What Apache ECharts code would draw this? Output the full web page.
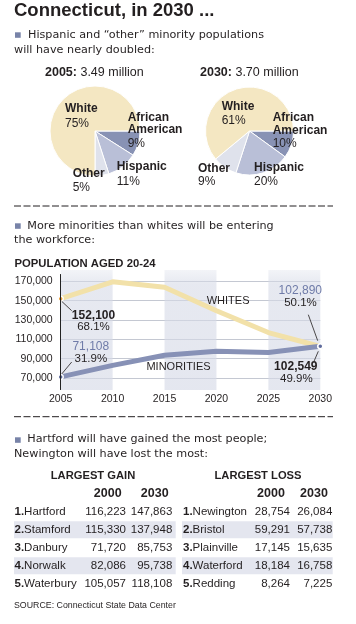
<!DOCTYPE html>
<html><head><meta charset="utf-8">
<script src="https://cdn.jsdelivr.net/npm/echarts@6/dist/echarts.min.js"></script>
<style>html,body{margin:0;padding:0;background:#fff}#c{width:356px;height:624px}</style>
</head><body><div id="c"></div>
<script>
// ---------- DATA ----------
const pieCategories = ['African American', 'Hispanic', 'Other', 'White'];
const pie2005 = [9, 11, 5, 75];
const pie2030 = [10, 20, 9, 61];
const pieTotals = ['3.49 million', '3.70 million'];
const years = [2005, 2010, 2015, 2020, 2025, 2030];
const whites = [152100, 169500, 163800, 139500, 117000, 102549];
const minorities = [71108, 83000, 93500, 97700, 96300, 102890];
const yTicks = [70000, 90000, 110000, 130000, 150000, 170000];
const bands = [[2005, 2010], [2015, 2020], [2025, 2030]];
const gainCities = ['Hartford', 'Stamford', 'Danbury', 'Norwalk', 'Waterbury'];
const gain2000 = [116223, 115330, 71720, 82086, 105057];
const gain2030 = [147863, 137948, 85753, 95738, 118108];
const lossCities = ['Newington', 'Bristol', 'Plainville', 'Waterford', 'Redding'];
const loss2000 = [28754, 59291, 17145, 18184, 8264];
const loss2030 = [26084, 57738, 15635, 16758, 7225];

// ---------- STYLE ----------
const INK = '#231f20', BLUE_TXT = '#6f7ba8';
const LS = 'Liberation Sans', DV = 'DejaVu Sans';
const pieColors = ['#8892b4', '#b9bfd7', '#dfe2ec', '#f4e7c2'];
const fmt = v => v.toLocaleString('en-US');

function T(text, x, y, o) {
  o = o || {};
  const st = {text: text, fill: o.fill || INK, fontFamily: o.ff || LS, fontSize: o.fs || 12,
    fontWeight: o.fw || 'normal', align: o.align || 'left', verticalAlign: 'middle'};
  if (o.rich) st.rich = o.rich;
  return {type: 'text', x: x, y: y, z: 100, silent: true, style: st};
}
function L(x1, y1, x2, y2, o) {
  o = o || {};
  return {type: 'line', z: 100, silent: true, shape: {x1, y1, x2, y2},
    style: {stroke: o.stroke || INK, lineWidth: o.w || 0.8, lineDash: o.dash || null}};
}
function SQ(x, y) {
  return {type: 'rect', z: 100, silent: true, shape: {x: x, y: y, width: 5.7, height: 5.5}, style: {fill: '#7883a8'}};
}

function pieSeries(vals, center, r) {
  return {type: 'pie', center: center, radius: r, startAngle: 0, clockwise: true, silent: true,
    animation: false, label: {show: false}, labelLine: {show: false},
    itemStyle: {borderColor: '#fff', borderWidth: 1},
    data: pieCategories.map((n, i) => ({name: n, value: vals[i], itemStyle: {color: pieColors[i]}}))};
}

const last = years.length - 1;
const endSym = (v, p) => (p.dataIndex === 0 || p.dataIndex === last) ? 5 : 0;
const bandFill = {type: 'linear', x: 0, y: 0, x2: 0, y2: 1, colorStops: [
  {offset: 0, color: 'rgba(214,218,231,0.3)'}, {offset: 0.12, color: 'rgba(214,218,231,0.6)'},
  {offset: 1, color: 'rgba(214,218,231,0.65)'}]};

function tableSeries(idx, cities, a, b, cols) {
  return {type: 'custom', xAxisIndex: idx, yAxisIndex: idx, silent: true, animation: false,
    data: cities.map((c, i) => [0, i]),
    renderItem: function (params, api) {
      const i = params.dataIndex;
      const cy = api.coord([0, i])[1];
      const bh = api.size([0, 1])[1];
      const cs = params.coordSys;
      const kids = [];
      if (i % 2 === 1) kids.push({type: 'rect', shape: {x: cs.x, y: cy - bh / 2 + 0.5, width: cs.width, height: bh - 1}, style: {fill: '#e4e6ef'}});
      const base = {fontFamily: LS, fontSize: 11.5, fill: INK, verticalAlign: 'middle'};
      kids.push({type: 'text', x: cs.x + cols[0], y: cy, style: Object.assign({}, base, {align: 'left',
        text: '{r|' + (i + 1) + '.}' + cities[i], rich: {r: {fontWeight: 'bold', fontFamily: LS, fontSize: 11.5, fill: INK}}})});
      kids.push({type: 'text', x: cs.x + cols[1], y: cy, style: Object.assign({}, base, {align: 'right', text: fmt(a[i])})});
      kids.push({type: 'text', x: cs.x + cols[2], y: cy, style: Object.assign({}, base, {align: 'right', text: fmt(b[i])})});
      return {type: 'group', children: kids};
    }};
}

const wPct0 = (whites[0] / (whites[0] + minorities[0]) * 100).toFixed(1);
const mPct0 = (minorities[0] / (whites[0] + minorities[0]) * 100).toFixed(1);
const wPctL = (whites[last] / (whites[last] + minorities[last]) * 100).toFixed(1);
const mPctL = (minorities[last] / (whites[last] + minorities[last]) * 100).toFixed(1);

const graphic = [
  T('Connecticut, in 2030 ...', 14, 11.2, {fs: 18.5, fw: 'bold'}),
  SQ(15, 32.3),
  T('Hispanic and \u201Cother\u201D minority populations', 28, 35.2, {ff: DV, fs: 11.2}),
  T('will have nearly doubled:', 14, 50.2, {ff: DV, fs: 11.2}),
  T('{b|2005:} ' + pieTotals[0], 45, 72.5, {fs: 12.5, rich: {b: {fontWeight: 'bold', fontFamily: LS, fontSize: 12.5, fill: INK}}}),
  T('{b|2030:} ' + pieTotals[1], 200, 72.5, {fs: 12.5, rich: {b: {fontWeight: 'bold', fontFamily: LS, fontSize: 12.5, fill: INK}}}),
  // 2005 pie labels
  T('White', 65, 109, {fw: 'bold'}), T(pie2005[3] + '%', 65, 123.3),
  T('African', 127.7, 117.5, {fw: 'bold'}), T('American', 127.7, 130, {fw: 'bold'}), T(pie2005[0] + '%', 127.7, 143.5),
  T('Hispanic', 116.7, 166.7, {fw: 'bold'}), T(pie2005[1] + '%', 116.7, 181.5),
  T('Other', 72.7, 173.5, {fw: 'bold'}), T(pie2005[2] + '%', 72.7, 187.5),
  // 2030 pie labels
  T('White', 221.7, 106.8, {fw: 'bold'}), T(pie2030[3] + '%', 221.7, 120.8),
  T('African', 272.7, 117.8, {fw: 'bold'}), T('American', 272.7, 130.8, {fw: 'bold'}), T(pie2030[0] + '%', 272.7, 143.5),
  T('Hispanic', 254, 167.5, {fw: 'bold'}), T(pie2030[1] + '%', 254, 181.5),
  T('Other', 198, 169, {fw: 'bold'}), T(pie2030[2] + '%', 198, 181.8),
  // separator 1
  L(14, 206, 333, 206, {w: 1, dash: [7, 2.5]}),
  SQ(15, 223.3),
  T('More minorities than whites will be entering', 27.3, 226, {ff: DV, fs: 11.2}),
  T('the workforce:', 14, 240.3, {ff: DV, fs: 11.2}),
  T('POPULATION AGED 20-24', 14.5, 264, {fs: 11.3, fw: 'bold'}),
  // line annotations
  T(fmt(whites[0]), 93.5, 315.5, {fw: 'bold', align: 'center'}),
  T(wPct0 + '%', 93.5, 327.2, {align: 'center', fs: 11.5}),
  L(61.7, 301.3, 71.7, 310.7),
  T(fmt(minorities[0]), 90.8, 346.5, {fill: BLUE_TXT, align: 'center'}),
  T(mPct0 + '%', 90.8, 358.8, {align: 'center', fs: 11.5}),
  L(61.7, 374, 71.7, 362),
  T('WHITES', 206.7, 300.5, {fs: 11}),
  T('MINORITIES', 178.5, 367, {fs: 11, align: 'center'}),
  T(fmt(minorities[last]), 300.3, 291, {fill: BLUE_TXT, align: 'center'}),
  T(mPctL + '%', 300.5, 303, {align: 'center', fs: 11.5}),
  L(308.3, 314.7, 317.7, 340.7),
  T(fmt(whites[last]), 295.8, 366.5, {fw: 'bold', align: 'center'}),
  T(wPctL + '%', 296.3, 379, {align: 'center', fs: 11.5}),
  L(318.3, 351.3, 314, 361.3),
  // separator 2
  L(14, 416.7, 333, 416.7, {w: 1, dash: [7, 2.5]}),
  SQ(15, 437.3),
  T('Hartford will have gained the most people;', 27.3, 439.3, {ff: DV, fs: 11.2}),
  T('Newington will have lost the most:', 14, 454.3, {ff: DV, fs: 11.2}),
  T('LARGEST GAIN', 93, 475.8, {fw: 'bold', fs: 11.2, align: 'center'}),
  T('LARGEST LOSS', 258, 475.8, {fw: 'bold', fs: 11.2, align: 'center'}),
  T('2000', 107.7, 493.8, {fw: 'bold', fs: 12.5, align: 'center'}),
  T('2030', 154.7, 493.8, {fw: 'bold', fs: 12.5, align: 'center'}),
  T('2000', 271, 493.8, {fw: 'bold', fs: 12.5, align: 'center'}),
  T('2030', 314, 493.8, {fw: 'bold', fs: 12.5, align: 'center'}),
  T('SOURCE: Connecticut State Data Center', 14, 605.8, {fs: 8.8})
];

const option = {
  backgroundColor: '#fff',
  animation: false,
  graphic: graphic,
  grid: [
    {left: 60.7, right: 35.7, top: 262, height: 135.3},
    {left: 14, top: 502.7, width: 161.7, height: 90},
    {left: 182, top: 502.7, width: 150.7, height: 90}
  ],
  xAxis: [
    {gridIndex: 0, type: 'value', min: 2005, max: 2030, interval: 5,
      axisLine: {show: false}, axisTick: {show: false}, splitLine: {show: false},
      axisLabel: {formatter: v => String(v), color: INK, fontFamily: LS, fontSize: 10.5, margin: 2, verticalAlign: 'middle'}},
    {gridIndex: 1, type: 'value', min: 0, max: 1, show: false},
    {gridIndex: 2, type: 'value', min: 0, max: 1, show: false}
  ],
  yAxis: [
    {gridIndex: 0, type: 'value', min: 50000, max: 190000, interval: 20000,
      axisLine: {show: false}, axisTick: {show: false},
      axisLabel: {showMinLabel: false, showMaxLabel: false, color: INK, fontFamily: LS, fontSize: 10.5, margin: 8,
        formatter: v => yTicks.indexOf(v) >= 0 ? fmt(v) : ''},
      splitLine: {show: true, showMinLine: false, showMaxLine: false, lineStyle: {color: '#c4c8d2', width: 1}}},
    {gridIndex: 1, type: 'category', data: gainCities.map((c, i) => String(i)), inverse: true, show: false},
    {gridIndex: 2, type: 'category', data: lossCities.map((c, i) => String(i)), inverse: true, show: false}
  ],
  series: [
    pieSeries(pie2005, [95, 131], 45),
    pieSeries(pie2030, [249.5, 131], 44),
    {type: 'line', name: 'Whites', xAxisIndex: 0, yAxisIndex: 0, silent: true, animation: false,
      data: years.map((y, i) => [y, whites[i]]), symbol: 'circle', showSymbol: true, symbolSize: endSym,
      lineStyle: {color: '#f2e1a9', width: 5}, itemStyle: {color: '#eba03a', borderColor: '#fff', borderWidth: 1.5},
      markArea: {silent: true, itemStyle: {color: bandFill},
        data: bands.map(b => [{xAxis: b[0], yAxis: 57600}, {xAxis: b[1], yAxis: 181700}])},
      markLine: {silent: true, symbol: 'none', label: {show: false},
        lineStyle: {color: '#222', width: 1, type: 'solid'},
        data: [[{coord: [years[0], 57600]}, {coord: [years[0], 177500]}]]}},
    {type: 'line', name: 'Minorities', xAxisIndex: 0, yAxisIndex: 0, silent: true, animation: false,
      data: years.map((y, i) => [y, minorities[i]]), symbol: 'circle', showSymbol: true, symbolSize: endSym,
      lineStyle: {color: '#8791b6', width: 5}, itemStyle: {color: '#5f6b9c', borderColor: '#fff', borderWidth: 1.5}},
    tableSeries(1, gainCities, gain2000, gain2030, [0.5, 112, 158.3]),
    tableSeries(2, lossCities, loss2000, loss2030, [1, 108, 150.3])
  ]
};
const chart = echarts.init(document.getElementById('c'), null, {renderer: 'canvas', width: 356, height: 624});
chart.setOption(option);
</script>
</body></html>
